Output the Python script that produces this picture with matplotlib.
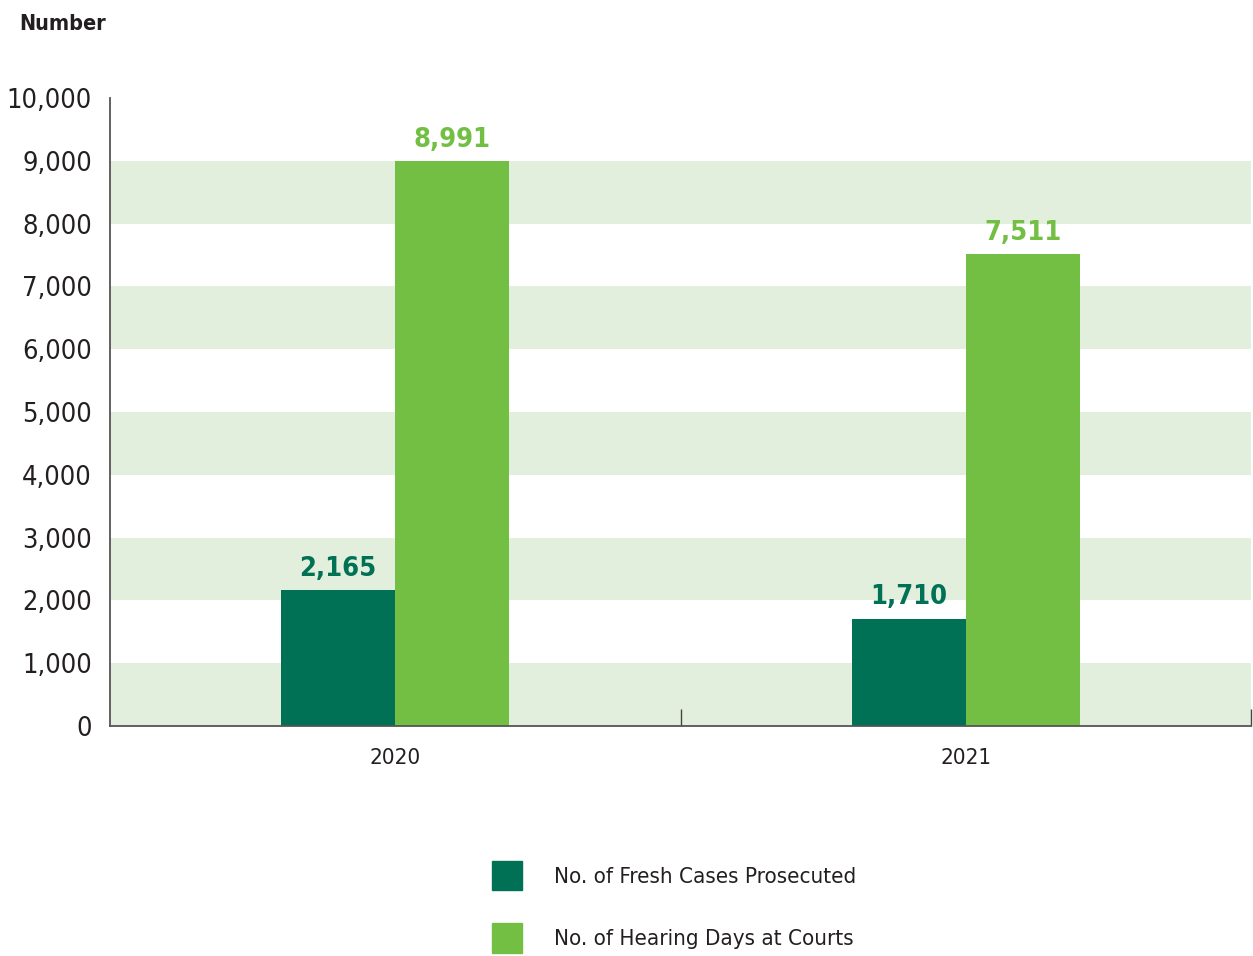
import matplotlib
matplotlib.use("Agg")
import matplotlib.pyplot as plt
from matplotlib.patches import Patch
from matplotlib import font_manager as fm
import numpy as np

years = ["2020", "2021"]
fresh_cases = [2165, 1710]
hearing_days = [8991, 7511]
series_labels = ["No. of Fresh Cases Prosecuted", "No. of Hearing Days at Courts"]
yticks = list(range(0, 10001, 1000))

dark = "#007155"
light = "#72bf44"
band = "#e3efdd"
txt = "#231f20"

# pick a condensed font file if one is installed
cond_reg = None
cond_bold = None
for f in fm.fontManager.ttflist:
    n = f.fname.lower()
    if ("narrow" in n or "condensed" in n) and "oblique" not in n and "italic" not in n:
        if "bold" in n:
            if cond_bold is None:
                cond_bold = f.fname
        elif "light" not in n and "extra" not in n and "semi" not in n and "medium" not in n and "thin" not in n and "black" not in n:
            if cond_reg is None:
                cond_reg = f.fname

def fp(size, bold=False):
    path = cond_bold if bold else cond_reg
    if path:
        return fm.FontProperties(fname=path, size=size)
    return fm.FontProperties(family="DejaVu Sans", size=size,
                             weight="bold" if bold else "normal", stretch="condensed")

fig = plt.figure(figsize=(12.53, 9.56), dpi=100)
ax = fig.add_axes([110/1253, 1-726/956, (1251-110)/1253, (726-98)/956])

for lo in range(0, 10000, 2000):
    ax.axhspan(lo, lo + 1000, color=band, lw=0, zorder=0)

x = np.arange(len(years))
w = 0.2
b1 = ax.bar(x - w/2, fresh_cases, w, color=dark, zorder=2, label=series_labels[0])
b2 = ax.bar(x + w/2, hearing_days, w, color=light, zorder=2, label=series_labels[1])

for bars, col in ((b1, dark), (b2, light)):
    for r in bars:
        v = r.get_height()
        ax.annotate(f"{v:,.0f}", (r.get_x() + r.get_width()/2, v), xytext=(0, 6),
                    textcoords="offset points", ha="center", va="bottom",
                    fontproperties=fp(19.5, True), color=col, zorder=3)

ax.set_xlim(-0.5, 1.5)
ax.set_ylim(0, 10000)
ax.set_yticks(yticks)
ax.set_yticklabels([f"{t:,}" for t in yticks], color=txt)
for lab in ax.get_yticklabels():
    lab.set_fontproperties(fp(19.5))
ax.tick_params(axis="y", length=0, pad=13)
ax.set_xticks(x)
ax.set_xticklabels(years, color=txt)
for lab in ax.get_xticklabels():
    lab.set_fontproperties(fp(16))
ax.tick_params(axis="x", which="major", length=0, pad=16)
ax.set_xticks([0.5, 1.5], minor=True)
ax.tick_params(axis="x", which="minor", direction="in", length=12, width=1, color="#444444")

for s in ("top", "right"):
    ax.spines[s].set_visible(False)
for s in ("left", "bottom"):
    ax.spines[s].set_color("#555555")
    ax.spines[s].set_linewidth(1.3)
    ax.spines[s].set_zorder(4)

fig.text(19/1253, 1-24/956, "Number", fontproperties=fp(15.5, True),
         color=txt, va="center", ha="left")

handles = [Patch(color=dark), Patch(color=light)]
leg = fig.legend(handles, series_labels, loc="upper left",
                 bbox_to_anchor=(474/1253, 1-843/956), frameon=False,
                 prop=fp(16), handlelength=1.38, handleheight=1.65,
                 handletextpad=1.4, labelspacing=1.5, borderpad=0.3)
for t in leg.get_texts():
    t.set_color(txt)

fig.savefig("out.png", dpi=100)
